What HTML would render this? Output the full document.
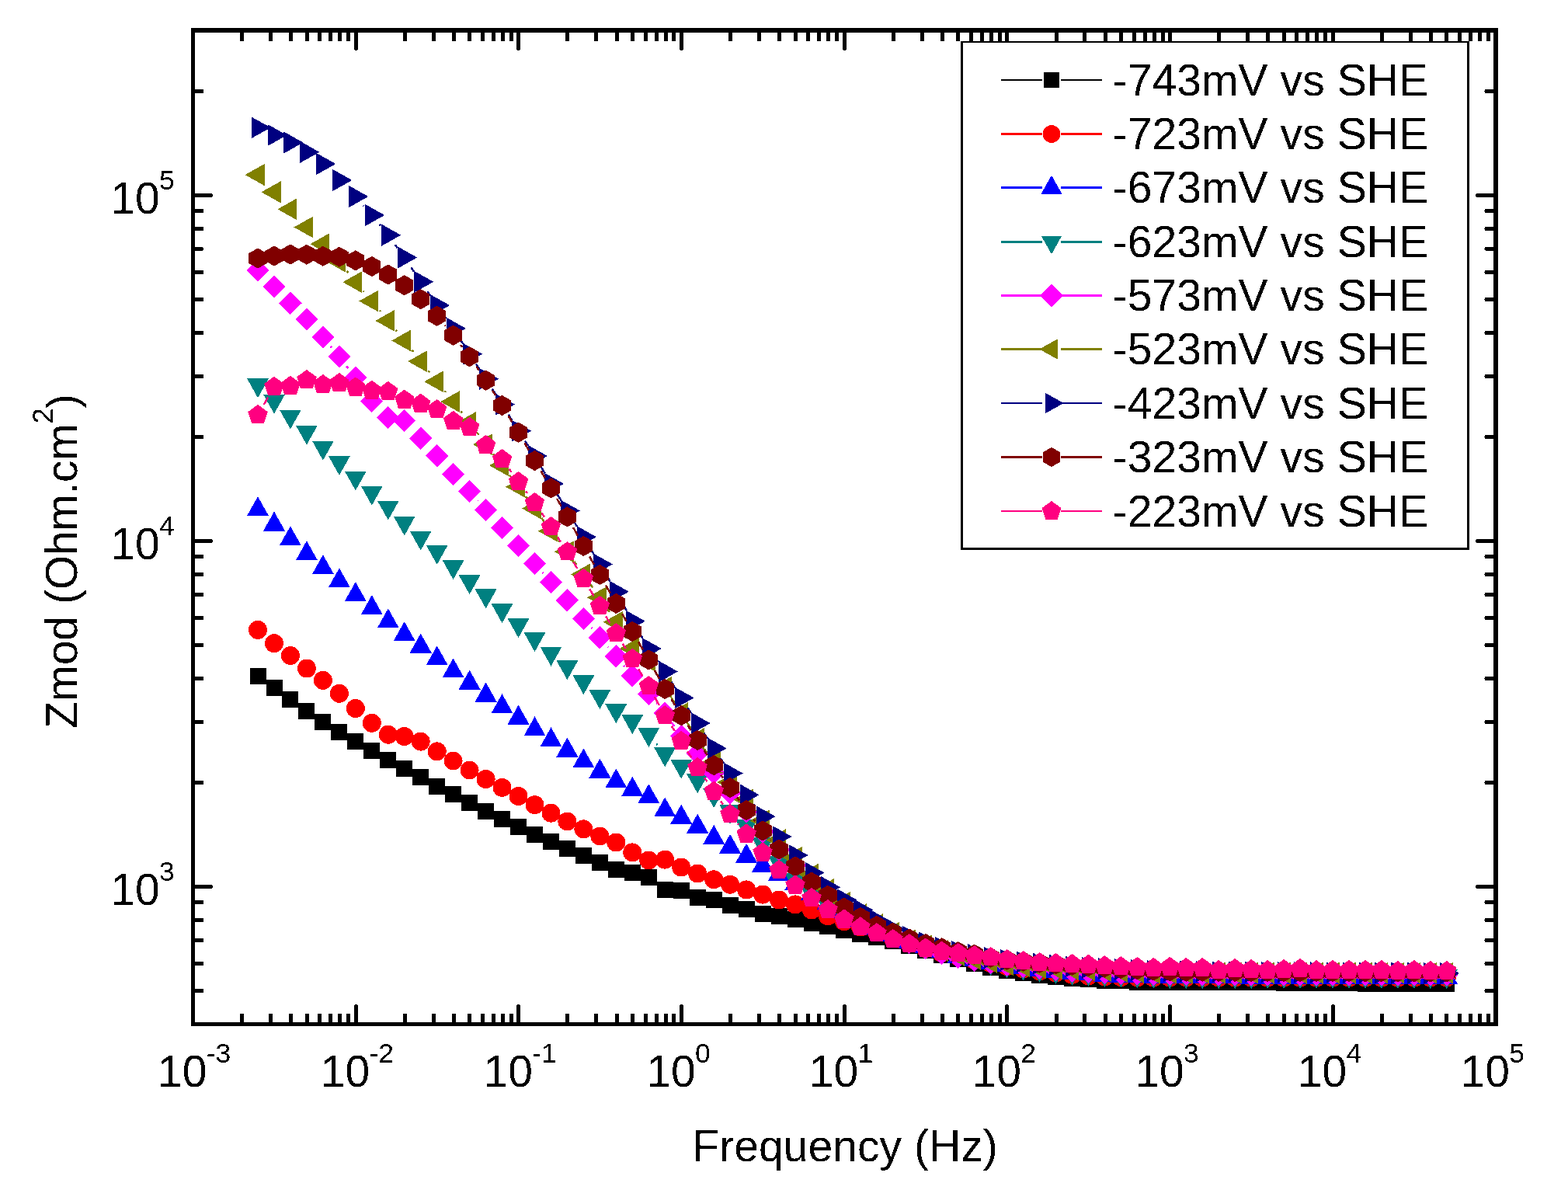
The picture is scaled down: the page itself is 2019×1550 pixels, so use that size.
<!DOCTYPE html>
<html lang="en"><head><meta charset="utf-8"><title>Zmod vs Frequency</title>
<style>html,body{margin:0;padding:0;background:#fff}body{width:2019px;height:1550px;overflow:hidden}svg{display:block}text{filter:url(#bin);font-family:"Liberation Sans",sans-serif;fill:#000}</style>
</head><body>
<svg width="2019" height="1550" viewBox="0 0 2019 1550" shape-rendering="crispEdges">
<defs><filter id="bin" x="-5%" y="-20%" width="110%" height="140%" color-interpolation-filters="sRGB"><feComponentTransfer><feFuncA type="discrete" tableValues="0 1"/></feComponentTransfer></filter></defs>
<rect width="2019" height="1550" fill="#fff"/>
<path id="ticks" fill="#000" d="M309 40v11a2.5 2.5 0 0 0 5 0V40zM309 1318v-11a2.5 2.5 0 0 1 5 0V1318zM346 40v11a2.5 2.5 0 0 0 5 0V40zM346 1318v-11a2.5 2.5 0 0 1 5 0V1318zM372 40v11a2.5 2.5 0 0 0 5 0V40zM372 1318v-11a2.5 2.5 0 0 1 5 0V1318zM393 40v11a2.5 2.5 0 0 0 5 0V40zM393 1318v-11a2.5 2.5 0 0 1 5 0V1318zM409 40v11a2.5 2.5 0 0 0 5 0V40zM409 1318v-11a2.5 2.5 0 0 1 5 0V1318zM423 40v11a2.5 2.5 0 0 0 5 0V40zM423 1318v-11a2.5 2.5 0 0 1 5 0V1318zM435 40v11a2.5 2.5 0 0 0 5 0V40zM435 1318v-11a2.5 2.5 0 0 1 5 0V1318zM446 40v11a2.5 2.5 0 0 0 5 0V40zM446 1318v-11a2.5 2.5 0 0 1 5 0V1318zM456 40v22.5a2.5 2.5 0 0 0 5 0V40zM456 1318v-22.5a2.5 2.5 0 0 1 5 0V1318zM519 40v11a2.5 2.5 0 0 0 5 0V40zM519 1318v-11a2.5 2.5 0 0 1 5 0V1318zM556 40v11a2.5 2.5 0 0 0 5 0V40zM556 1318v-11a2.5 2.5 0 0 1 5 0V1318zM582 40v11a2.5 2.5 0 0 0 5 0V40zM582 1318v-11a2.5 2.5 0 0 1 5 0V1318zM602 40v11a2.5 2.5 0 0 0 5 0V40zM602 1318v-11a2.5 2.5 0 0 1 5 0V1318zM619 40v11a2.5 2.5 0 0 0 5 0V40zM619 1318v-11a2.5 2.5 0 0 1 5 0V1318zM633 40v11a2.5 2.5 0 0 0 5 0V40zM633 1318v-11a2.5 2.5 0 0 1 5 0V1318zM645 40v11a2.5 2.5 0 0 0 5 0V40zM645 1318v-11a2.5 2.5 0 0 1 5 0V1318zM656 40v11a2.5 2.5 0 0 0 5 0V40zM656 1318v-11a2.5 2.5 0 0 1 5 0V1318zM665 40v22.5a2.5 2.5 0 0 0 5 0V40zM665 1318v-22.5a2.5 2.5 0 0 1 5 0V1318zM728 40v11a2.5 2.5 0 0 0 5 0V40zM728 1318v-11a2.5 2.5 0 0 1 5 0V1318zM765 40v11a2.5 2.5 0 0 0 5 0V40zM765 1318v-11a2.5 2.5 0 0 1 5 0V1318zM792 40v11a2.5 2.5 0 0 0 5 0V40zM792 1318v-11a2.5 2.5 0 0 1 5 0V1318zM812 40v11a2.5 2.5 0 0 0 5 0V40zM812 1318v-11a2.5 2.5 0 0 1 5 0V1318zM829 40v11a2.5 2.5 0 0 0 5 0V40zM829 1318v-11a2.5 2.5 0 0 1 5 0V1318zM843 40v11a2.5 2.5 0 0 0 5 0V40zM843 1318v-11a2.5 2.5 0 0 1 5 0V1318zM855 40v11a2.5 2.5 0 0 0 5 0V40zM855 1318v-11a2.5 2.5 0 0 1 5 0V1318zM865 40v11a2.5 2.5 0 0 0 5 0V40zM865 1318v-11a2.5 2.5 0 0 1 5 0V1318zM875 40v22.5a2.5 2.5 0 0 0 5 0V40zM875 1318v-22.5a2.5 2.5 0 0 1 5 0V1318zM938 40v11a2.5 2.5 0 0 0 5 0V40zM938 1318v-11a2.5 2.5 0 0 1 5 0V1318zM975 40v11a2.5 2.5 0 0 0 5 0V40zM975 1318v-11a2.5 2.5 0 0 1 5 0V1318zM1001 40v11a2.5 2.5 0 0 0 5 0V40zM1001 1318v-11a2.5 2.5 0 0 1 5 0V1318zM1022 40v11a2.5 2.5 0 0 0 5 0V40zM1022 1318v-11a2.5 2.5 0 0 1 5 0V1318zM1038 40v11a2.5 2.5 0 0 0 5 0V40zM1038 1318v-11a2.5 2.5 0 0 1 5 0V1318zM1052 40v11a2.5 2.5 0 0 0 5 0V40zM1052 1318v-11a2.5 2.5 0 0 1 5 0V1318zM1064 40v11a2.5 2.5 0 0 0 5 0V40zM1064 1318v-11a2.5 2.5 0 0 1 5 0V1318zM1075 40v11a2.5 2.5 0 0 0 5 0V40zM1075 1318v-11a2.5 2.5 0 0 1 5 0V1318zM1085 40v22.5a2.5 2.5 0 0 0 5 0V40zM1085 1318v-22.5a2.5 2.5 0 0 1 5 0V1318zM1148 40v11a2.5 2.5 0 0 0 5 0V40zM1148 1318v-11a2.5 2.5 0 0 1 5 0V1318zM1185 40v11a2.5 2.5 0 0 0 5 0V40zM1185 1318v-11a2.5 2.5 0 0 1 5 0V1318zM1211 40v11a2.5 2.5 0 0 0 5 0V40zM1211 1318v-11a2.5 2.5 0 0 1 5 0V1318zM1231 40v11a2.5 2.5 0 0 0 5 0V40zM1231 1318v-11a2.5 2.5 0 0 1 5 0V1318zM1248 40v11a2.5 2.5 0 0 0 5 0V40zM1248 1318v-11a2.5 2.5 0 0 1 5 0V1318zM1262 40v11a2.5 2.5 0 0 0 5 0V40zM1262 1318v-11a2.5 2.5 0 0 1 5 0V1318zM1274 40v11a2.5 2.5 0 0 0 5 0V40zM1274 1318v-11a2.5 2.5 0 0 1 5 0V1318zM1285 40v11a2.5 2.5 0 0 0 5 0V40zM1285 1318v-11a2.5 2.5 0 0 1 5 0V1318zM1294 40v22.5a2.5 2.5 0 0 0 5 0V40zM1294 1318v-22.5a2.5 2.5 0 0 1 5 0V1318zM1358 40v11a2.5 2.5 0 0 0 5 0V40zM1358 1318v-11a2.5 2.5 0 0 1 5 0V1318zM1394 40v11a2.5 2.5 0 0 0 5 0V40zM1394 1318v-11a2.5 2.5 0 0 1 5 0V1318zM1421 40v11a2.5 2.5 0 0 0 5 0V40zM1421 1318v-11a2.5 2.5 0 0 1 5 0V1318zM1441 40v11a2.5 2.5 0 0 0 5 0V40zM1441 1318v-11a2.5 2.5 0 0 1 5 0V1318zM1458 40v11a2.5 2.5 0 0 0 5 0V40zM1458 1318v-11a2.5 2.5 0 0 1 5 0V1318zM1472 40v11a2.5 2.5 0 0 0 5 0V40zM1472 1318v-11a2.5 2.5 0 0 1 5 0V1318zM1484 40v11a2.5 2.5 0 0 0 5 0V40zM1484 1318v-11a2.5 2.5 0 0 1 5 0V1318zM1495 40v11a2.5 2.5 0 0 0 5 0V40zM1495 1318v-11a2.5 2.5 0 0 1 5 0V1318zM1504 40v22.5a2.5 2.5 0 0 0 5 0V40zM1504 1318v-22.5a2.5 2.5 0 0 1 5 0V1318zM1567 40v11a2.5 2.5 0 0 0 5 0V40zM1567 1318v-11a2.5 2.5 0 0 1 5 0V1318zM1604 40v11a2.5 2.5 0 0 0 5 0V40zM1604 1318v-11a2.5 2.5 0 0 1 5 0V1318zM1630 40v11a2.5 2.5 0 0 0 5 0V40zM1630 1318v-11a2.5 2.5 0 0 1 5 0V1318zM1651 40v11a2.5 2.5 0 0 0 5 0V40zM1651 1318v-11a2.5 2.5 0 0 1 5 0V1318zM1667 40v11a2.5 2.5 0 0 0 5 0V40zM1667 1318v-11a2.5 2.5 0 0 1 5 0V1318zM1681 40v11a2.5 2.5 0 0 0 5 0V40zM1681 1318v-11a2.5 2.5 0 0 1 5 0V1318zM1693 40v11a2.5 2.5 0 0 0 5 0V40zM1693 1318v-11a2.5 2.5 0 0 1 5 0V1318zM1704 40v11a2.5 2.5 0 0 0 5 0V40zM1704 1318v-11a2.5 2.5 0 0 1 5 0V1318zM1714 40v22.5a2.5 2.5 0 0 0 5 0V40zM1714 1318v-22.5a2.5 2.5 0 0 1 5 0V1318zM1777 40v11a2.5 2.5 0 0 0 5 0V40zM1777 1318v-11a2.5 2.5 0 0 1 5 0V1318zM1814 40v11a2.5 2.5 0 0 0 5 0V40zM1814 1318v-11a2.5 2.5 0 0 1 5 0V1318zM1840 40v11a2.5 2.5 0 0 0 5 0V40zM1840 1318v-11a2.5 2.5 0 0 1 5 0V1318zM1860 40v11a2.5 2.5 0 0 0 5 0V40zM1860 1318v-11a2.5 2.5 0 0 1 5 0V1318zM1877 40v11a2.5 2.5 0 0 0 5 0V40zM1877 1318v-11a2.5 2.5 0 0 1 5 0V1318zM1891 40v11a2.5 2.5 0 0 0 5 0V40zM1891 1318v-11a2.5 2.5 0 0 1 5 0V1318zM1903 40v11a2.5 2.5 0 0 0 5 0V40zM1903 1318v-11a2.5 2.5 0 0 1 5 0V1318zM1914 40v11a2.5 2.5 0 0 0 5 0V40zM1914 1318v-11a2.5 2.5 0 0 1 5 0V1318zM249 1273h11a2.5 2.5 0 0 1 0 5H249zM1925 1273h-11a2.5 2.5 0 0 0 0 5H1925zM249 1238h11a2.5 2.5 0 0 1 0 5H249zM1925 1238h-11a2.5 2.5 0 0 0 0 5H1925zM249 1208h11a2.5 2.5 0 0 1 0 5H249zM1925 1208h-11a2.5 2.5 0 0 0 0 5H1925zM249 1182h11a2.5 2.5 0 0 1 0 5H249zM1925 1182h-11a2.5 2.5 0 0 0 0 5H1925zM249 1159h11a2.5 2.5 0 0 1 0 5H249zM1925 1159h-11a2.5 2.5 0 0 0 0 5H1925zM249 1139h22.5a2.5 2.5 0 0 1 0 5H249zM1925 1139h-22.5a2.5 2.5 0 0 0 0 5H1925zM249 1005h11a2.5 2.5 0 0 1 0 5H249zM1925 1005h-11a2.5 2.5 0 0 0 0 5H1925zM249 927h11a2.5 2.5 0 0 1 0 5H249zM1925 927h-11a2.5 2.5 0 0 0 0 5H1925zM249 871h11a2.5 2.5 0 0 1 0 5H249zM1925 871h-11a2.5 2.5 0 0 0 0 5H1925zM249 828h11a2.5 2.5 0 0 1 0 5H249zM1925 828h-11a2.5 2.5 0 0 0 0 5H1925zM249 793h11a2.5 2.5 0 0 1 0 5H249zM1925 793h-11a2.5 2.5 0 0 0 0 5H1925zM249 763h11a2.5 2.5 0 0 1 0 5H249zM1925 763h-11a2.5 2.5 0 0 0 0 5H1925zM249 737h11a2.5 2.5 0 0 1 0 5H249zM1925 737h-11a2.5 2.5 0 0 0 0 5H1925zM249 714h11a2.5 2.5 0 0 1 0 5H249zM1925 714h-11a2.5 2.5 0 0 0 0 5H1925zM249 694h22.5a2.5 2.5 0 0 1 0 5H249zM1925 694h-22.5a2.5 2.5 0 0 0 0 5H1925zM249 560h11a2.5 2.5 0 0 1 0 5H249zM1925 560h-11a2.5 2.5 0 0 0 0 5H1925zM249 482h11a2.5 2.5 0 0 1 0 5H249zM1925 482h-11a2.5 2.5 0 0 0 0 5H1925zM249 426h11a2.5 2.5 0 0 1 0 5H249zM1925 426h-11a2.5 2.5 0 0 0 0 5H1925zM249 383h11a2.5 2.5 0 0 1 0 5H249zM1925 383h-11a2.5 2.5 0 0 0 0 5H1925zM249 348h11a2.5 2.5 0 0 1 0 5H249zM1925 348h-11a2.5 2.5 0 0 0 0 5H1925zM249 318h11a2.5 2.5 0 0 1 0 5H249zM1925 318h-11a2.5 2.5 0 0 0 0 5H1925zM249 292h11a2.5 2.5 0 0 1 0 5H249zM1925 292h-11a2.5 2.5 0 0 0 0 5H1925zM249 269h11a2.5 2.5 0 0 1 0 5H249zM1925 269h-11a2.5 2.5 0 0 0 0 5H1925zM249 249h22.5a2.5 2.5 0 0 1 0 5H249zM1925 249h-22.5a2.5 2.5 0 0 0 0 5H1925zM249 115h11a2.5 2.5 0 0 1 0 5H249zM1925 115h-11a2.5 2.5 0 0 0 0 5H1925z"/>
<path id="frame" fill="#000" fill-rule="evenodd" d="M246 36H1929V1321H246zM251 42V1316H1923V42z"/>
<g id="s1" fill="#000000"><path d="M321.5 860L342.5 860L342.5 881L321.5 881zM342.5 875L363.5 875L363.5 896L342.5 896zM363.4 890.1L384.4 890.1L384.4 911.1L363.4 911.1zM384.4 905.2L405.4 905.2L405.4 926.2L384.4 926.2zM405.4 919L426.4 919L426.4 940L405.4 940zM426.4 932.1L447.4 932.1L447.4 953.1L426.4 953.1zM447.3 944.2L468.3 944.2L468.3 965.2L447.3 965.2zM468.3 956.1L489.3 956.1L489.3 977.1L468.3 977.1zM489.3 968L510.3 968L510.3 989L489.3 989zM510.2 979.2L531.2 979.2L531.2 1000.2L510.2 1000.2zM531.2 990L552.2 990L552.2 1011L531.2 1011zM552.2 1001.9L573.2 1001.9L573.2 1022.9L552.2 1022.9zM573.1 1012.2L594.1 1012.2L594.1 1033.2L573.1 1033.2zM594.1 1023.1L615.1 1023.1L615.1 1044.1L594.1 1044.1zM615.1 1034.2L636.1 1034.2L636.1 1055.2L615.1 1055.2zM636 1044.1L657 1044.1L657 1065.1L636 1065.1zM657 1054L678 1054L678 1075L657 1075zM678 1063.9L699 1063.9L699 1084.9L678 1084.9zM699 1073.2L720 1073.2L720 1094.2L699 1094.2zM719.9 1082.1L740.9 1082.1L740.9 1103.1L719.9 1103.1zM740.9 1091.1L761.9 1091.1L761.9 1112.1L740.9 1112.1zM761.9 1100.2L782.9 1100.2L782.9 1121.2L761.9 1121.2zM782.8 1109.1L803.8 1109.1L803.8 1130.1L782.8 1130.1zM803.8 1113L824.8 1113L824.8 1134L803.8 1134zM824.8 1119.4L845.8 1119.4L845.8 1140.4L824.8 1140.4zM845.8 1135.2L866.8 1135.2L866.8 1156.2L845.8 1156.2zM866.7 1136.2L887.7 1136.2L887.7 1157.2L866.7 1157.2zM887.7 1145.1L908.7 1145.1L908.7 1166.1L887.7 1166.1zM908.7 1148.3L929.7 1148.3L929.7 1169.3L908.7 1169.3zM929.6 1155L950.6 1155L950.6 1176L929.6 1176zM950.6 1160.4L971.6 1160.4L971.6 1181.4L950.6 1181.4zM971.6 1166.3L992.6 1166.3L992.6 1187.3L971.6 1187.3zM992.5 1169.3L1013.5 1169.3L1013.5 1190.3L992.5 1190.3zM1013.5 1172.9L1034.5 1172.9L1034.5 1193.9L1013.5 1193.9zM1034.5 1177.8L1055.5 1177.8L1055.5 1198.8L1034.5 1198.8zM1055.4 1182.2L1076.4 1182.2L1076.4 1203.2L1055.4 1203.2zM1076.4 1186.7L1097.4 1186.7L1097.4 1207.7L1076.4 1207.7zM1097.4 1192.1L1118.4 1192.1L1118.4 1213.1L1097.4 1213.1zM1118.4 1196L1139.4 1196L1139.4 1217L1118.4 1217zM1139.3 1200.6L1160.3 1200.6L1160.3 1221.6L1139.3 1221.6zM1160.3 1206.9L1181.3 1206.9L1181.3 1227.9L1160.3 1227.9zM1181.3 1212.9L1202.3 1212.9L1202.3 1233.9L1181.3 1233.9zM1202.2 1219.2L1223.2 1219.2L1223.2 1240.2L1202.2 1240.2zM1223.2 1224.2L1244.2 1224.2L1244.2 1245.2L1223.2 1245.2zM1244.2 1230.1L1265.2 1230.1L1265.2 1251.1L1244.2 1251.1zM1265.2 1234.8L1286.2 1234.8L1286.2 1255.8L1265.2 1255.8zM1286.1 1238.9L1307.1 1238.9L1307.1 1259.9L1286.1 1259.9zM1307.1 1242.2L1328.1 1242.2L1328.1 1263.2L1307.1 1263.2zM1328.1 1245.2L1349.1 1245.2L1349.1 1266.2L1328.1 1266.2zM1349 1247.4L1370 1247.4L1370 1268.4L1349 1268.4zM1370 1249.4L1391 1249.4L1391 1270.4L1370 1270.4zM1391 1250.3L1412 1250.3L1412 1271.3L1391 1271.3zM1411.9 1251.6L1432.9 1251.6L1432.9 1272.6L1411.9 1272.6zM1432.9 1251.9L1453.9 1251.9L1453.9 1272.9L1432.9 1272.9zM1453.9 1253.5L1474.9 1253.5L1474.9 1274.5L1453.9 1274.5zM1474.8 1253.6L1495.8 1253.6L1495.8 1274.6L1474.8 1274.6zM1495.8 1253.7L1516.8 1253.7L1516.8 1274.7L1495.8 1274.7zM1516.8 1253.8L1537.8 1253.8L1537.8 1274.8L1516.8 1274.8zM1537.8 1253.8L1558.8 1253.8L1558.8 1274.8L1537.8 1274.8zM1558.7 1253.9L1579.7 1253.9L1579.7 1274.9L1558.7 1274.9zM1579.7 1254L1600.7 1254L1600.7 1275L1579.7 1275zM1600.7 1254.2L1621.7 1254.2L1621.7 1275.2L1600.7 1275.2zM1621.6 1254.3L1642.6 1254.3L1642.6 1275.3L1621.6 1275.3zM1642.6 1254.5L1663.6 1254.5L1663.6 1275.5L1642.6 1275.5zM1663.6 1254.7L1684.6 1254.7L1684.6 1275.7L1663.6 1275.7zM1684.5 1254.9L1705.5 1254.9L1705.5 1275.9L1684.5 1275.9zM1705.5 1255.1L1726.5 1255.1L1726.5 1276.1L1705.5 1276.1zM1726.5 1255.3L1747.5 1255.3L1747.5 1276.3L1726.5 1276.3zM1747.5 1255.5L1768.5 1255.5L1768.5 1276.5L1747.5 1276.5zM1768.4 1255.5L1789.4 1255.5L1789.4 1276.5L1768.4 1276.5zM1789.4 1255.6L1810.4 1255.6L1810.4 1276.6L1789.4 1276.6zM1810.4 1255.6L1831.4 1255.6L1831.4 1276.6L1810.4 1276.6zM1831.3 1255.7L1852.3 1255.7L1852.3 1276.7L1831.3 1276.7zM1852.3 1255.7L1873.3 1255.7L1873.3 1276.7L1852.3 1276.7z"/></g>
<g id="s2" fill="#ff0000"><path d="M320 810.9a12 12 0 1 0 24 0a12 12 0 1 0 -24 0zM341 828.2a12 12 0 1 0 24 0a12 12 0 1 0 -24 0zM361.9 844a12 12 0 1 0 24 0a12 12 0 1 0 -24 0zM382.9 860.5a12 12 0 1 0 24 0a12 12 0 1 0 -24 0zM403.9 875.9a12 12 0 1 0 24 0a12 12 0 1 0 -24 0zM424.9 892.8a12 12 0 1 0 24 0a12 12 0 1 0 -24 0zM445.8 912a12 12 0 1 0 24 0a12 12 0 1 0 -24 0zM466.8 930.8a12 12 0 1 0 24 0a12 12 0 1 0 -24 0zM487.8 945.7a12 12 0 1 0 24 0a12 12 0 1 0 -24 0zM508.7 948a12 12 0 1 0 24 0a12 12 0 1 0 -24 0zM529.7 954.6a12 12 0 1 0 24 0a12 12 0 1 0 -24 0zM550.7 967.4a12 12 0 1 0 24 0a12 12 0 1 0 -24 0zM571.6 979.5a12 12 0 1 0 24 0a12 12 0 1 0 -24 0zM592.6 991.5a12 12 0 1 0 24 0a12 12 0 1 0 -24 0zM613.6 1003a12 12 0 1 0 24 0a12 12 0 1 0 -24 0zM634.5 1013.9a12 12 0 1 0 24 0a12 12 0 1 0 -24 0zM655.5 1025.1a12 12 0 1 0 24 0a12 12 0 1 0 -24 0zM676.5 1036.2a12 12 0 1 0 24 0a12 12 0 1 0 -24 0zM697.5 1046.7a12 12 0 1 0 24 0a12 12 0 1 0 -24 0zM718.4 1057.5a12 12 0 1 0 24 0a12 12 0 1 0 -24 0zM739.4 1067.4a12 12 0 1 0 24 0a12 12 0 1 0 -24 0zM760.4 1076.5a12 12 0 1 0 24 0a12 12 0 1 0 -24 0zM781.3 1084.5a12 12 0 1 0 24 0a12 12 0 1 0 -24 0zM802.3 1097.4a12 12 0 1 0 24 0a12 12 0 1 0 -24 0zM823.3 1107.5a12 12 0 1 0 24 0a12 12 0 1 0 -24 0zM844.2 1106.6a12 12 0 1 0 24 0a12 12 0 1 0 -24 0zM865.2 1116.5a12 12 0 1 0 24 0a12 12 0 1 0 -24 0zM886.2 1124.5a12 12 0 1 0 24 0a12 12 0 1 0 -24 0zM907.2 1132.3a12 12 0 1 0 24 0a12 12 0 1 0 -24 0zM928.1 1138.7a12 12 0 1 0 24 0a12 12 0 1 0 -24 0zM949.1 1145.4a12 12 0 1 0 24 0a12 12 0 1 0 -24 0zM970.1 1151.6a12 12 0 1 0 24 0a12 12 0 1 0 -24 0zM991 1158.5a12 12 0 1 0 24 0a12 12 0 1 0 -24 0zM1012 1164.4a12 12 0 1 0 24 0a12 12 0 1 0 -24 0zM1033 1171.4a12 12 0 1 0 24 0a12 12 0 1 0 -24 0zM1053.9 1179.3a12 12 0 1 0 24 0a12 12 0 1 0 -24 0zM1074.9 1186.2a12 12 0 1 0 24 0a12 12 0 1 0 -24 0zM1095.9 1193.5a12 12 0 1 0 24 0a12 12 0 1 0 -24 0zM1116.9 1200.5a12 12 0 1 0 24 0a12 12 0 1 0 -24 0zM1137.8 1207.5a12 12 0 1 0 24 0a12 12 0 1 0 -24 0zM1158.8 1214.5a12 12 0 1 0 24 0a12 12 0 1 0 -24 0zM1179.8 1221a12 12 0 1 0 24 0a12 12 0 1 0 -24 0zM1200.7 1227a12 12 0 1 0 24 0a12 12 0 1 0 -24 0zM1221.7 1231.5a12 12 0 1 0 24 0a12 12 0 1 0 -24 0zM1242.7 1236a12 12 0 1 0 24 0a12 12 0 1 0 -24 0zM1263.7 1240a12 12 0 1 0 24 0a12 12 0 1 0 -24 0zM1284.6 1244a12 12 0 1 0 24 0a12 12 0 1 0 -24 0zM1305.6 1247.5a12 12 0 1 0 24 0a12 12 0 1 0 -24 0zM1326.6 1250.3a12 12 0 1 0 24 0a12 12 0 1 0 -24 0zM1347.5 1252.5a12 12 0 1 0 24 0a12 12 0 1 0 -24 0zM1368.5 1254.8a12 12 0 1 0 24 0a12 12 0 1 0 -24 0zM1389.5 1256.3a12 12 0 1 0 24 0a12 12 0 1 0 -24 0zM1410.4 1257.4a12 12 0 1 0 24 0a12 12 0 1 0 -24 0zM1431.4 1258a12 12 0 1 0 24 0a12 12 0 1 0 -24 0zM1452.4 1258.4a12 12 0 1 0 24 0a12 12 0 1 0 -24 0zM1473.3 1258.5a12 12 0 1 0 24 0a12 12 0 1 0 -24 0zM1494.3 1258.5a12 12 0 1 0 24 0a12 12 0 1 0 -24 0zM1515.3 1258.5a12 12 0 1 0 24 0a12 12 0 1 0 -24 0zM1536.3 1258.5a12 12 0 1 0 24 0a12 12 0 1 0 -24 0zM1557.2 1258.5a12 12 0 1 0 24 0a12 12 0 1 0 -24 0zM1578.2 1258.5a12 12 0 1 0 24 0a12 12 0 1 0 -24 0zM1599.2 1258.5a12 12 0 1 0 24 0a12 12 0 1 0 -24 0zM1620.1 1258.5a12 12 0 1 0 24 0a12 12 0 1 0 -24 0zM1641.1 1258.5a12 12 0 1 0 24 0a12 12 0 1 0 -24 0zM1662.1 1258.5a12 12 0 1 0 24 0a12 12 0 1 0 -24 0zM1683 1258.5a12 12 0 1 0 24 0a12 12 0 1 0 -24 0zM1704 1258.5a12 12 0 1 0 24 0a12 12 0 1 0 -24 0zM1725 1258.5a12 12 0 1 0 24 0a12 12 0 1 0 -24 0zM1746 1258.5a12 12 0 1 0 24 0a12 12 0 1 0 -24 0zM1766.9 1258.5a12 12 0 1 0 24 0a12 12 0 1 0 -24 0zM1787.9 1258.5a12 12 0 1 0 24 0a12 12 0 1 0 -24 0zM1808.9 1258.5a12 12 0 1 0 24 0a12 12 0 1 0 -24 0zM1829.8 1258.5a12 12 0 1 0 24 0a12 12 0 1 0 -24 0zM1850.8 1258.5a12 12 0 1 0 24 0a12 12 0 1 0 -24 0z"/></g>
<g id="s3" fill="#0000ff"><path d="M332 639.1L346 664.1L318 664.1zM353 658.5L367 683.5L339 683.5zM373.9 677.3L387.9 702.3L359.9 702.3zM394.9 696.2L408.9 721.2L380.9 721.2zM415.9 714.2L429.9 739.2L401.9 739.2zM436.9 731.3L450.9 756.3L422.9 756.3zM457.8 749.1L471.8 774.1L443.8 774.1zM478.8 766.2L492.8 791.2L464.8 791.2zM499.8 783.4L513.8 808.4L485.8 808.4zM520.7 800.2L534.7 825.2L506.7 825.2zM541.7 815.5L555.7 840.5L527.7 840.5zM562.7 831.3L576.7 856.3L548.7 856.3zM583.6 847.4L597.6 872.4L569.6 872.4zM604.6 862.6L618.6 887.6L590.6 887.6zM625.6 878.5L639.6 903.5L611.6 903.5zM646.5 893.3L660.5 918.3L632.5 918.3zM667.5 907.6L681.5 932.6L653.5 932.6zM688.5 922.4L702.5 947.4L674.5 947.4zM709.5 936.3L723.5 961.3L695.5 961.3zM730.4 949.5L744.4 974.5L716.4 974.5zM751.4 963.4L765.4 988.4L737.4 988.4zM772.4 976.5L786.4 1001.5L758.4 1001.5zM793.3 989.4L807.3 1014.4L779.3 1014.4zM814.3 999.7L828.3 1024.7L800.3 1024.7zM835.3 1009.2L849.3 1034.2L821.3 1034.2zM856.2 1026.4L870.2 1051.4L842.2 1051.4zM877.2 1035.7L891.2 1060.7L863.2 1060.7zM898.2 1047.6L912.2 1072.6L884.2 1072.6zM919.2 1061.9L933.2 1086.9L905.2 1086.9zM940.1 1073.8L954.1 1098.8L926.1 1098.8zM961.1 1085.8L975.1 1110.8L947.1 1110.8zM982.1 1097.7L996.1 1122.7L968.1 1122.7zM1003 1108.8L1017 1133.8L989 1133.8zM1024 1121.4L1038 1146.4L1010 1146.4zM1045 1134.1L1059 1159.1L1031 1159.1zM1065.9 1146L1079.9 1171L1051.9 1171zM1086.9 1157.4L1100.9 1182.4L1072.9 1182.4zM1107.9 1168.4L1121.9 1193.4L1093.9 1193.4zM1128.9 1178.4L1142.9 1203.4L1114.9 1203.4zM1149.8 1186.5L1163.8 1211.5L1135.8 1211.5zM1170.8 1195.9L1184.8 1220.9L1156.8 1220.9zM1191.8 1201.9L1205.8 1226.9L1177.8 1226.9zM1212.7 1208.4L1226.7 1233.4L1198.7 1233.4zM1233.7 1214.9L1247.7 1239.9L1219.7 1239.9zM1254.7 1218.9L1268.7 1243.9L1240.7 1243.9zM1275.7 1222.9L1289.7 1247.9L1261.7 1247.9zM1296.6 1226.2L1310.6 1251.2L1282.6 1251.2zM1317.6 1229.2L1331.6 1254.2L1303.6 1254.2zM1338.6 1231.9L1352.6 1256.9L1324.6 1256.9zM1359.5 1234.2L1373.5 1259.2L1345.5 1259.2zM1380.5 1235.9L1394.5 1260.9L1366.5 1260.9zM1401.5 1237.4L1415.5 1262.4L1387.5 1262.4zM1422.4 1238.6L1436.4 1263.6L1408.4 1263.6zM1443.4 1239.6L1457.4 1264.6L1429.4 1264.6zM1464.4 1240.4L1478.4 1265.4L1450.4 1265.4zM1485.3 1240.9L1499.3 1265.9L1471.3 1265.9zM1506.3 1241.4L1520.3 1266.4L1492.3 1266.4zM1527.3 1241.4L1541.3 1266.4L1513.3 1266.4zM1548.3 1241.4L1562.3 1266.4L1534.3 1266.4zM1569.2 1241.4L1583.2 1266.4L1555.2 1266.4zM1590.2 1241.4L1604.2 1266.4L1576.2 1266.4zM1611.2 1241.5L1625.2 1266.5L1597.2 1266.5zM1632.1 1241.5L1646.1 1266.5L1618.1 1266.5zM1653.1 1241.5L1667.1 1266.5L1639.1 1266.5zM1674.1 1241.5L1688.1 1266.5L1660.1 1266.5zM1695 1241.5L1709 1266.5L1681 1266.5zM1716 1241.5L1730 1266.5L1702 1266.5zM1737 1241.5L1751 1266.5L1723 1266.5zM1758 1241.5L1772 1266.5L1744 1266.5zM1778.9 1241.6L1792.9 1266.6L1764.9 1266.6zM1799.9 1241.6L1813.9 1266.6L1785.9 1266.6zM1820.9 1241.6L1834.9 1266.6L1806.9 1266.6zM1841.8 1241.6L1855.8 1266.6L1827.8 1266.6zM1862.8 1241.6L1876.8 1266.6L1848.8 1266.6z"/></g>
<g id="s4" fill="#008080"><path fill="none" stroke="#008080" stroke-width="2.5" d="M845.1 957.3L846.4 958.7M992.3 1098.2L992.8 1098.7"/><path d="M332 512.2L346 487.2L318 487.2zM353 532.7L367 507.7L339 507.7zM373.9 552.5L387.9 527.5L359.9 527.5zM394.9 572.7L408.9 547.7L380.9 547.7zM415.9 592.6L429.9 567.6L401.9 567.6zM436.9 611.9L450.9 586.9L422.9 586.9zM457.8 631.5L471.8 606.5L443.8 606.5zM478.8 650.6L492.8 625.6L464.8 625.6zM499.8 669.5L513.8 644.5L485.8 644.5zM520.7 689.6L534.7 664.6L506.7 664.6zM541.7 708.6L555.7 683.6L527.7 683.6zM562.7 726.8L576.7 701.8L548.7 701.8zM583.6 746L597.6 721L569.6 721zM604.6 765.1L618.6 740.1L590.6 740.1zM625.6 783.3L639.6 758.3L611.6 758.3zM646.5 802.1L660.5 777.1L632.5 777.1zM667.5 821.1L681.5 796.1L653.5 796.1zM688.5 839.1L702.5 814.1L674.5 814.1zM709.5 857.6L723.5 832.6L695.5 832.6zM730.4 875.2L744.4 850.2L716.4 850.2zM751.4 894.2L765.4 869.2L737.4 869.2zM772.4 913L786.4 888L758.4 888zM793.3 931.2L807.3 906.2L779.3 906.2zM814.3 945.1L828.3 920.1L800.3 920.1zM835.3 961.9L849.3 936.9L821.3 936.9zM856.2 987.3L870.2 962.3L842.2 962.3zM877.2 1002.6L891.2 977.6L863.2 977.6zM898.2 1021.4L912.2 996.4L884.2 996.4zM919.2 1040L933.2 1015L905.2 1015zM940.1 1060.7L954.1 1035.7L926.1 1035.7zM961.1 1080.3L975.1 1055.3L947.1 1055.3zM982.1 1103.1L996.1 1078.1L968.1 1078.1zM1003 1127L1017 1102L989 1102zM1024 1148.6L1038 1123.6L1010 1123.6zM1045 1166.6L1059 1141.6L1031 1141.6zM1065.9 1181.6L1079.9 1156.6L1051.9 1156.6zM1086.9 1193.6L1100.9 1168.6L1072.9 1168.6zM1107.9 1203.6L1121.9 1178.6L1093.9 1178.6zM1128.9 1212.1L1142.9 1187.1L1114.9 1187.1zM1149.8 1219.6L1163.8 1194.6L1135.8 1194.6zM1170.8 1227.1L1184.8 1202.1L1156.8 1202.1zM1191.8 1234.6L1205.8 1209.6L1177.8 1209.6zM1212.7 1241.6L1226.7 1216.6L1198.7 1216.6zM1233.7 1247.1L1247.7 1222.1L1219.7 1222.1zM1254.7 1251.8L1268.7 1226.8L1240.7 1226.8zM1275.7 1256.1L1289.7 1231.1L1261.7 1231.1zM1296.6 1259.6L1310.6 1234.6L1282.6 1234.6zM1317.6 1262.6L1331.6 1237.6L1303.6 1237.6zM1338.6 1265.1L1352.6 1240.1L1324.6 1240.1zM1359.5 1267.1L1373.5 1242.1L1345.5 1242.1zM1380.5 1268.6L1394.5 1243.6L1366.5 1243.6zM1401.5 1269.8L1415.5 1244.8L1387.5 1244.8zM1422.4 1270.8L1436.4 1245.8L1408.4 1245.8zM1443.4 1271.6L1457.4 1246.6L1429.4 1246.6zM1464.4 1272.3L1478.4 1247.3L1450.4 1247.3zM1485.3 1272.8L1499.3 1247.8L1471.3 1247.8zM1506.3 1273.1L1520.3 1248.1L1492.3 1248.1zM1527.3 1273.1L1541.3 1248.1L1513.3 1248.1zM1548.3 1273.1L1562.3 1248.1L1534.3 1248.1zM1569.2 1273.1L1583.2 1248.1L1555.2 1248.1zM1590.2 1273.1L1604.2 1248.1L1576.2 1248.1zM1611.2 1273.1L1625.2 1248.1L1597.2 1248.1zM1632.1 1273.1L1646.1 1248.1L1618.1 1248.1zM1653.1 1273.1L1667.1 1248.1L1639.1 1248.1zM1674.1 1273.1L1688.1 1248.1L1660.1 1248.1zM1695 1273.1L1709 1248.1L1681 1248.1zM1716 1273.1L1730 1248.1L1702 1248.1zM1737 1273.1L1751 1248.1L1723 1248.1zM1758 1273.1L1772 1248.1L1744 1248.1zM1778.9 1273.1L1792.9 1248.1L1764.9 1248.1zM1799.9 1273.1L1813.9 1248.1L1785.9 1248.1zM1820.9 1273.1L1834.9 1248.1L1806.9 1248.1zM1841.8 1273.1L1855.8 1248.1L1827.8 1248.1zM1862.8 1273.1L1876.8 1248.1L1848.8 1248.1z"/></g>
<g id="s5" fill="#ff00ff"><path fill="none" stroke="#ff00ff" stroke-width="2.5" d="M425.8 445.9L426.9 447.3M446.3 471.5L448.4 474.1M466.7 499.1L469.9 503.8M614.9 644.3L615.3 644.9M698.6 737.1L699.3 737.9M761.5 808.2L762.3 809.1M782.6 832.6L783.1 833.1M803.3 856.7L804.4 858.1M845.4 905.3L846.1 906.1M865.2 930.6L868.3 934.9M908.1 981.7L909.2 983.1M928.9 1007.1L930.4 1008.9M950.4 1032.7L950.9 1033.2M970.9 1056.9L972.3 1058.7"/><path d="M332 333.7L346.6 348.3L332 362.9L317.4 348.3zM353 354.8L367.6 369.4L353 384L338.4 369.4zM373.9 375.9L388.5 390.5L373.9 405.1L359.3 390.5zM394.9 396.7L409.5 411.3L394.9 425.9L380.3 411.3zM415.9 419.4L430.5 434L415.9 448.6L401.3 434zM436.9 444.6L451.5 459.2L436.9 473.8L422.2 459.2zM457.8 471.8L472.4 486.4L457.8 501L443.2 486.4zM478.8 501.9L493.4 516.5L478.8 531.1L464.2 516.5zM499.8 523L514.4 537.6L499.8 552.2L485.2 537.6zM520.7 527L535.3 541.6L520.7 556.2L506.1 541.6zM541.7 549.7L556.3 564.3L541.7 578.9L527.1 564.3zM562.7 572.3L577.3 586.9L562.7 601.5L548.1 586.9zM583.6 595.8L598.2 610.4L583.6 625L569 610.4zM604.6 618.1L619.2 632.7L604.6 647.3L590 632.7zM625.6 641.9L640.2 656.5L625.6 671.1L611 656.5zM646.5 665.1L661.1 679.7L646.5 694.3L631.9 679.7zM667.5 687.8L682.1 702.4L667.5 717L652.9 702.4zM688.5 710.8L703.1 725.4L688.5 740L673.9 725.4zM709.5 735L724.1 749.6L709.5 764.2L694.9 749.6zM730.4 758.4L745 773L730.4 787.6L715.8 773zM751.4 781.8L766 796.4L751.4 811L736.8 796.4zM772.4 806.3L787 820.9L772.4 835.5L757.8 820.9zM793.3 830.2L807.9 844.8L793.3 859.4L778.7 844.8zM814.3 855.4L828.9 870L814.3 884.6L799.7 870zM835.3 878.9L849.9 893.5L835.3 908.1L820.7 893.5zM856.2 903.3L870.9 917.9L856.2 932.5L841.6 917.9zM877.2 933L891.8 947.6L877.2 962.2L862.6 947.6zM898.2 955.2L912.8 969.8L898.2 984.4L883.6 969.8zM919.2 980.4L933.8 995L919.2 1009.6L904.6 995zM940.1 1006.4L954.7 1021L940.1 1035.6L925.5 1021zM961.1 1030.3L975.7 1044.9L961.1 1059.5L946.5 1044.9zM982.1 1056.1L996.7 1070.7L982.1 1085.3L967.5 1070.7zM1003 1079.4L1017.6 1094L1003 1108.6L988.4 1094zM1024 1099.4L1038.6 1114L1024 1128.6L1009.4 1114zM1045 1119.9L1059.6 1134.5L1045 1149.1L1030.4 1134.5zM1065.9 1138L1080.5 1152.6L1065.9 1167.2L1051.3 1152.6zM1086.9 1152.9L1101.5 1167.5L1086.9 1182.1L1072.3 1167.5zM1107.9 1165.4L1122.5 1180L1107.9 1194.6L1093.3 1180zM1128.9 1177.4L1143.5 1192L1128.9 1206.6L1114.3 1192zM1149.8 1188.4L1164.4 1203L1149.8 1217.6L1135.2 1203zM1170.8 1198.7L1185.4 1213.3L1170.8 1227.9L1156.2 1213.3zM1191.8 1205.7L1206.4 1220.3L1191.8 1234.9L1177.2 1220.3zM1212.7 1212.6L1227.3 1227.2L1212.7 1241.8L1198.1 1227.2zM1233.7 1217.6L1248.3 1232.2L1233.7 1246.8L1219.1 1232.2zM1254.7 1221.6L1269.3 1236.2L1254.7 1250.8L1240.1 1236.2zM1275.7 1225.1L1290.2 1239.7L1275.7 1254.3L1261.1 1239.7zM1296.6 1227.5L1311.2 1242.1L1296.6 1256.7L1282 1242.1zM1317.6 1229.9L1332.2 1244.5L1317.6 1259.1L1303 1244.5zM1338.6 1232.1L1353.2 1246.7L1338.6 1261.3L1324 1246.7zM1359.5 1234L1374.1 1248.6L1359.5 1263.2L1344.9 1248.6zM1380.5 1235.6L1395.1 1250.2L1380.5 1264.8L1365.9 1250.2zM1401.5 1236.9L1416.1 1251.5L1401.5 1266.1L1386.9 1251.5zM1422.4 1237.9L1437 1252.5L1422.4 1267.1L1407.8 1252.5zM1443.4 1238.7L1458 1253.3L1443.4 1267.9L1428.8 1253.3zM1464.4 1239.4L1479 1254L1464.4 1268.6L1449.8 1254zM1485.3 1240.1L1499.9 1254.7L1485.3 1269.3L1470.8 1254.7zM1506.3 1240.1L1520.9 1254.7L1506.3 1269.3L1491.7 1254.7zM1527.3 1240.1L1541.9 1254.7L1527.3 1269.3L1512.7 1254.7zM1548.3 1240.2L1562.9 1254.8L1548.3 1269.3L1533.7 1254.8zM1569.2 1240.2L1583.8 1254.8L1569.2 1269.4L1554.6 1254.8zM1590.2 1240.2L1604.8 1254.8L1590.2 1269.4L1575.6 1254.8zM1611.2 1240.2L1625.8 1254.8L1611.2 1269.4L1596.6 1254.8zM1632.1 1240.2L1646.7 1254.8L1632.1 1269.4L1617.5 1254.8zM1653.1 1240.2L1667.7 1254.8L1653.1 1269.4L1638.5 1254.8zM1674.1 1240.2L1688.7 1254.8L1674.1 1269.4L1659.5 1254.8zM1695 1240.3L1709.6 1254.9L1695 1269.5L1680.5 1254.9zM1716 1240.3L1730.6 1254.9L1716 1269.5L1701.4 1254.9zM1737 1240.3L1751.6 1254.9L1737 1269.5L1722.4 1254.9zM1758 1240.3L1772.6 1254.9L1758 1269.5L1743.4 1254.9zM1778.9 1240.3L1793.5 1254.9L1778.9 1269.5L1764.3 1254.9zM1799.9 1240.4L1814.5 1255L1799.9 1269.5L1785.3 1255zM1820.9 1240.4L1835.5 1255L1820.9 1269.6L1806.3 1255zM1841.8 1240.4L1856.4 1255L1841.8 1269.6L1827.2 1255zM1862.8 1240.4L1877.4 1255L1862.8 1269.6L1848.2 1255z"/></g>
<g id="s6" fill="#808000"><path fill="none" stroke="#808000" stroke-width="2.5" d="M446.5 348.9L448.2 351.1M467.9 375L468.7 375.8M488.7 399.5L489.9 401M509.6 424.9L510.9 426.5M530.3 450.7L532.1 453M551.4 477.3L553 479.2M572.4 503.3L573.9 505.1M593.2 529.3L595.1 531.8M613.9 556.4L616.3 559.8M635.1 584.4L637 587M655.9 611.5L658.1 614.4M676.9 639.1L679.2 642.1M697.5 667.1L700.4 671.1M719.1 695.9L720.8 698.1M739.5 722.9L742.4 726.9M760.3 752.2L763.4 756.5M780.9 782.1L784.8 788M801.5 814.1L806.2 821.8M843.3 863.9L848.2 871.9M864.5 898.2L869 905.3M885.6 931.5L889.8 938.1M906.9 964L910.4 969.2M929.1 993.9L930.2 995.1M970.6 1041.8L972.6 1044.3M992.1 1068.4L993 1069.6"/><path d="M315.5 225.1L340.5 211.1L340.5 239.1zM336.5 247.3L361.5 233.3L361.5 261.3zM357.4 269.3L382.4 255.3L382.4 283.3zM378.4 292.5L403.4 278.5L403.4 306.5zM399.4 314.2L424.4 300.2L424.4 328.2zM420.4 336.8L445.4 322.8L445.4 350.8zM441.3 363.2L466.3 349.2L466.3 377.2zM462.3 387.6L487.3 373.6L487.3 401.6zM483.3 412.9L508.3 398.9L508.3 426.9zM504.2 438.5L529.2 424.5L529.2 452.5zM525.2 465.2L550.2 451.2L550.2 479.2zM546.2 491.3L571.2 477.3L571.2 505.3zM567.1 517.1L592.1 503.1L592.1 531.1zM588.1 544L613.1 530L613.1 558zM609.1 572.2L634.1 558.2L634.1 586.2zM630 599.2L655 585.2L655 613.2zM651 626.7L676 612.7L676 640.7zM672 654.5L697 640.5L697 668.5zM693 683.7L718 669.7L718 697.7zM713.9 710.3L738.9 696.3L738.9 724.3zM734.9 739.5L759.9 725.5L759.9 753.5zM755.9 769.2L780.9 755.2L780.9 783.2zM776.8 800.9L801.8 786.9L801.8 814.9zM797.8 835L822.8 821L822.8 849zM818.8 850.7L843.8 836.7L843.8 864.7zM839.8 885.1L864.8 871.1L864.8 899.1zM860.7 918.4L885.7 904.4L885.7 932.4zM881.7 951.2L906.7 937.2L906.7 965.2zM902.7 982L927.7 968L927.7 996zM923.6 1007L948.6 993L948.6 1021zM944.6 1029.5L969.6 1015.5L969.6 1043.5zM965.6 1056.6L990.6 1042.6L990.6 1070.6zM986.5 1081.4L1011.5 1067.4L1011.5 1095.4zM1007.5 1104.2L1032.5 1090.2L1032.5 1118.2zM1028.5 1125.9L1053.5 1111.9L1053.5 1139.9zM1049.4 1144.8L1074.4 1130.8L1074.4 1158.8zM1070.4 1161.6L1095.4 1147.6L1095.4 1175.6zM1091.4 1176.9L1116.4 1162.9L1116.4 1190.9zM1112.4 1189.9L1137.4 1175.9L1137.4 1203.9zM1133.3 1200.8L1158.3 1186.8L1158.3 1214.8zM1154.3 1210.1L1179.3 1196.1L1179.3 1224.1zM1175.3 1217.1L1200.3 1203.1L1200.3 1231.1zM1196.2 1224.1L1221.2 1210.1L1221.2 1238.1zM1217.2 1230L1242.2 1216L1242.2 1244zM1238.2 1235L1263.2 1221L1263.2 1249zM1259.2 1239L1284.2 1225L1284.2 1253zM1280.1 1242L1305.1 1228L1305.1 1256zM1301.1 1244L1326.1 1230L1326.1 1258zM1322.1 1246L1347.1 1232L1347.1 1260zM1343 1247.2L1368 1233.2L1368 1261.2zM1364 1248.2L1389 1234.2L1389 1262.2zM1385 1249L1410 1235L1410 1263zM1405.9 1250L1430.9 1236L1430.9 1264zM1426.9 1251L1451.9 1237L1451.9 1265zM1447.9 1251.8L1472.9 1237.8L1472.9 1265.8zM1468.8 1252.6L1493.8 1238.6L1493.8 1266.6zM1489.8 1252.6L1514.8 1238.6L1514.8 1266.6zM1510.8 1252.6L1535.8 1238.6L1535.8 1266.6zM1531.8 1252.6L1556.8 1238.6L1556.8 1266.6zM1552.7 1252.6L1577.7 1238.6L1577.7 1266.6zM1573.7 1252.6L1598.7 1238.6L1598.7 1266.6zM1594.7 1252.6L1619.7 1238.6L1619.7 1266.6zM1615.6 1252.6L1640.6 1238.6L1640.6 1266.6zM1636.6 1252.6L1661.6 1238.6L1661.6 1266.6zM1657.6 1252.6L1682.6 1238.6L1682.6 1266.6zM1678.5 1252.6L1703.5 1238.6L1703.5 1266.6zM1699.5 1252.6L1724.5 1238.6L1724.5 1266.6zM1720.5 1252.6L1745.5 1238.6L1745.5 1266.6zM1741.5 1252.6L1766.5 1238.6L1766.5 1266.6zM1762.4 1252.6L1787.4 1238.6L1787.4 1266.6zM1783.4 1252.6L1808.4 1238.6L1808.4 1266.6zM1804.4 1252.6L1829.4 1238.6L1829.4 1266.6zM1825.3 1252.6L1850.3 1238.6L1850.3 1266.6zM1846.3 1252.6L1871.3 1238.6L1871.3 1266.6z"/></g>
<g id="s7" fill="#000080"><path fill="none" stroke="#000080" stroke-width="2.5" d="M468 264.7L468.6 265.3M488.6 289L490 290.7M508.9 315.2L511.6 319M529.4 344.4L533.1 349.9M550.5 375.5L553.8 380.4M571.6 405.8L574.7 410.2M592 436L596.3 442.6M613.1 468.7L617.1 474.8M633.9 500.9L638.2 507.5M654.7 533.8L659.4 541.5M675.9 567.7L680.1 574.1M696.3 600.5L701.6 609.4M717.5 636.1L722.4 644.2M738.6 670.7L743.2 678M759.3 704.5L764.4 713.1M780.3 739.7L785.4 748.4M800.8 775.3L806.8 786.1M822.2 813L827.4 821.7M844.3 847.6L847.3 851.9M864.4 877.7L869.1 885.2M885.6 911.4L889.8 918.1M906.6 944.1L910.7 950.4M927.6 976.4L931.7 982.5M949.5 1007.9L951.8 1010.9M970.4 1035.7L972.8 1038.8M991.8 1063.2L993.3 1065M1013.2 1088.7L1013.8 1089.3"/><path d="M348.5 164.3L323.5 150.3L323.5 178.3zM369.5 174L344.5 160L344.5 188zM390.4 183.5L365.4 169.5L365.4 197.5zM411.4 195.8L386.4 181.8L386.4 209.8zM432.4 211L407.4 197L407.4 225zM453.4 232L428.4 218L428.4 246zM474.3 253L449.3 239L449.3 267zM495.3 277L470.3 263L470.3 291zM516.3 302.7L491.3 288.7L491.3 316.7zM537.2 331.5L512.2 317.5L512.2 345.5zM558.2 362.8L533.2 348.8L533.2 376.8zM579.2 393.1L554.2 379.1L554.2 407.1zM600.1 422.9L575.1 408.9L575.1 436.9zM621.1 455.7L596.1 441.7L596.1 469.7zM642.1 487.8L617.1 473.8L617.1 501.8zM663 520.6L638 506.6L638 534.6zM684 554.7L659 540.7L659 568.7zM705 587.1L680 573.1L680 601.1zM726 622.8L701 608.8L701 636.8zM746.9 657.5L721.9 643.5L721.9 671.5zM767.9 691.2L742.9 677.2L742.9 705.2zM788.9 726.4L763.9 712.4L763.9 740.4zM809.8 761.7L784.8 747.7L784.8 775.7zM830.8 799.7L805.8 785.7L805.8 813.7zM851.8 835L826.8 821L826.8 849zM872.8 864.5L847.8 850.5L847.8 878.5zM893.7 898.4L868.7 884.4L868.7 912.4zM914.7 931.1L889.7 917.1L889.7 945.1zM935.7 963.4L910.7 949.4L910.7 977.4zM956.6 995.5L931.6 981.5L931.6 1009.5zM977.6 1023.3L952.6 1009.3L952.6 1037.3zM998.6 1051.2L973.6 1037.2L973.6 1065.2zM1019.5 1077L994.5 1063L994.5 1091zM1040.5 1101L1015.5 1087L1015.5 1115zM1061.5 1123.6L1036.5 1109.6L1036.5 1137.6zM1082.4 1142.3L1057.4 1128.3L1057.4 1156.3zM1103.4 1158.5L1078.4 1144.5L1078.4 1172.5zM1124.4 1171.5L1099.4 1157.5L1099.4 1185.5zM1145.4 1185L1120.4 1171L1120.4 1199zM1166.3 1196.5L1141.3 1182.5L1141.3 1210.5zM1187.3 1206L1162.3 1192L1162.3 1220zM1208.3 1213.5L1183.3 1199.5L1183.3 1227.5zM1229.2 1219.8L1204.2 1205.8L1204.2 1233.8zM1250.2 1225L1225.2 1211L1225.2 1239zM1271.2 1229.2L1246.2 1215.2L1246.2 1243.2zM1292.2 1233L1267.2 1219L1267.2 1247zM1313.1 1236L1288.1 1222L1288.1 1250zM1334.1 1238.5L1309.1 1224.5L1309.1 1252.5zM1355.1 1240.7L1330.1 1226.7L1330.1 1254.7zM1376 1242.6L1351 1228.6L1351 1256.6zM1397 1244.3L1372 1230.3L1372 1258.3zM1418 1245.8L1393 1231.8L1393 1259.8zM1438.9 1247L1413.9 1233L1413.9 1261zM1459.9 1248L1434.9 1234L1434.9 1262zM1480.9 1249L1455.9 1235L1455.9 1263zM1501.8 1250L1476.8 1236L1476.8 1264zM1522.8 1250.3L1497.8 1236.3L1497.8 1264.3zM1543.8 1250.5L1518.8 1236.5L1518.8 1264.5zM1564.8 1250.8L1539.8 1236.8L1539.8 1264.8zM1585.7 1251.1L1560.7 1237.1L1560.7 1265.1zM1606.7 1251.2L1581.7 1237.2L1581.7 1265.2zM1627.7 1251.4L1602.7 1237.4L1602.7 1265.4zM1648.6 1251.5L1623.6 1237.5L1623.6 1265.5zM1669.6 1251.6L1644.6 1237.6L1644.6 1265.6zM1690.6 1251.8L1665.6 1237.8L1665.6 1265.8zM1711.5 1251.9L1686.5 1237.9L1686.5 1265.9zM1732.5 1252L1707.5 1238L1707.5 1266zM1753.5 1252.2L1728.5 1238.2L1728.5 1266.2zM1774.5 1252.3L1749.5 1238.3L1749.5 1266.3zM1795.4 1252.5L1770.4 1238.5L1770.4 1266.5zM1816.4 1252.6L1791.4 1238.6L1791.4 1266.6zM1837.4 1252.7L1812.4 1238.7L1812.4 1266.7zM1858.3 1252.9L1833.3 1238.9L1833.3 1266.9zM1879.3 1253L1854.3 1239L1854.3 1267z"/></g>
<g id="s8" fill="#800000"><path fill="none" stroke="#800000" stroke-width="2.5" d="M572.7 418.7L573.7 419.8M593 444L595.2 446.9M613.4 472L616.8 476.9M634 502.7L638.1 509M654.6 535.3L659.5 543.4M675.3 570.1L680.7 579.6M696.4 606.3L701.6 615.1M717.1 641.9L722.8 651.9M738 678.9L743.9 689.5M759.1 716.5L764.7 726.4M780 753.4L785.7 763.4M801.1 790.3L806.5 799.6M822 826.4L827.6 836.1M842.8 863L848.7 873.5M864.4 900.2L869.1 908M885.8 934.1L889.6 940M906.6 965.9L910.7 972.2M928.3 997.7L931 1001.5M949.2 1026.6L952 1030.5M970.7 1055.2L972.4 1057.4M992.2 1081.2L992.9 1081.9"/><path d="M332 319.4L343.6 326L343.6 339L332 345.6L320.4 339L320.4 326zM353 316.4L364.6 323L364.6 336L353 342.6L341.4 336L341.4 323zM373.9 314.4L385.5 321L385.5 334L373.9 340.6L362.3 334L362.3 321zM394.9 314.6L406.5 321.2L406.5 334.2L394.9 340.8L383.3 334.2L383.3 321.2zM415.9 316.6L427.5 323.2L427.5 336.2L415.9 342.8L404.3 336.2L404.3 323.2zM436.9 317.6L448.5 324.2L448.5 337.2L436.9 343.8L425.2 337.2L425.2 324.2zM457.8 322.3L469.4 328.9L469.4 341.9L457.8 348.5L446.2 341.9L446.2 328.9zM478.8 329.9L490.4 336.5L490.4 349.5L478.8 356.1L467.2 349.5L467.2 336.5zM499.8 340.4L511.4 347L511.4 360L499.8 366.6L488.2 360L488.2 347zM520.7 354.2L532.3 360.8L532.3 373.8L520.7 380.4L509.1 373.8L509.1 360.8zM541.7 372.1L553.3 378.7L553.3 391.7L541.7 398.3L530.1 391.7L530.1 378.7zM562.7 393.7L574.3 400.3L574.3 413.3L562.7 419.9L551.1 413.3L551.1 400.3zM583.6 418.6L595.2 425.2L595.2 438.2L583.6 444.8L572 438.2L572 425.2zM604.6 446.1L616.2 452.7L616.2 465.7L604.6 472.3L593 465.7L593 452.7zM625.6 476.6L637.2 483.2L637.2 496.2L625.6 502.8L614 496.2L614 483.2zM646.5 508.9L658.1 515.5L658.1 528.5L646.5 535.1L634.9 528.5L634.9 515.5zM667.5 543.6L679.1 550.2L679.1 563.2L667.5 569.8L655.9 563.2L655.9 550.2zM688.5 579.9L700.1 586.5L700.1 599.5L688.5 606.1L676.9 599.5L676.9 586.5zM709.5 615.3L721.1 621.9L721.1 634.9L709.5 641.5L697.9 634.9L697.9 621.9zM730.4 652.3L742 658.9L742 671.9L730.4 678.5L718.8 671.9L718.8 658.9zM751.4 689.9L763 696.5L763 709.5L751.4 716.1L739.8 709.5L739.8 696.5zM772.4 726.8L784 733.4L784 746.4L772.4 753L760.8 746.4L760.8 733.4zM793.3 763.8L804.9 770.4L804.9 783.4L793.3 790L781.7 783.4L781.7 770.4zM814.3 799.9L825.9 806.5L825.9 819.5L814.3 826.1L802.7 819.5L802.7 806.5zM835.3 836.4L846.9 843L846.9 856L835.3 862.6L823.7 856L823.7 843zM856.2 873.9L867.9 880.5L867.9 893.5L856.2 900.1L844.6 893.5L844.6 880.5zM877.2 908.1L888.8 914.7L888.8 927.7L877.2 934.3L865.6 927.7L865.6 914.7zM898.2 939.8L909.8 946.4L909.8 959.4L898.2 966L886.6 959.4L886.6 946.4zM919.2 972.1L930.8 978.7L930.8 991.7L919.2 998.3L907.6 991.7L907.6 978.7zM940.1 1000.9L951.7 1007.5L951.7 1020.5L940.1 1027.1L928.5 1020.5L928.5 1007.5zM961.1 1030L972.7 1036.6L972.7 1049.6L961.1 1056.2L949.5 1049.6L949.5 1036.6zM982.1 1056.4L993.7 1063L993.7 1076L982.1 1082.6L970.5 1076L970.5 1063zM1003 1080.5L1014.6 1087.1L1014.6 1100.1L1003 1106.7L991.4 1100.1L991.4 1087.1zM1024 1102.4L1035.6 1109L1035.6 1122L1024 1128.6L1012.4 1122L1012.4 1109zM1045 1122.6L1056.6 1129.2L1056.6 1142.2L1045 1148.8L1033.4 1142.2L1033.4 1129.2zM1065.9 1139.6L1077.5 1146.2L1077.5 1159.2L1065.9 1165.8L1054.3 1159.2L1054.3 1146.2zM1086.9 1155.5L1098.5 1162.1L1098.5 1175.1L1086.9 1181.7L1075.3 1175.1L1075.3 1162.1zM1107.9 1167.8L1119.5 1174.4L1119.5 1187.4L1107.9 1194L1096.3 1187.4L1096.3 1174.4zM1128.9 1178.7L1140.5 1185.3L1140.5 1198.3L1128.9 1204.9L1117.3 1198.3L1117.3 1185.3zM1149.8 1187.6L1161.4 1194.2L1161.4 1207.2L1149.8 1213.8L1138.2 1207.2L1138.2 1194.2zM1170.8 1195.5L1182.4 1202.1L1182.4 1215.1L1170.8 1221.7L1159.2 1215.1L1159.2 1202.1zM1191.8 1201.9L1203.4 1208.5L1203.4 1221.5L1191.8 1228.1L1180.2 1221.5L1180.2 1208.5zM1212.7 1207.3L1224.3 1213.9L1224.3 1226.9L1212.7 1233.5L1201.1 1226.9L1201.1 1213.9zM1233.7 1212.2L1245.3 1218.8L1245.3 1231.8L1233.7 1238.4L1222.1 1231.8L1222.1 1218.8zM1254.7 1215.5L1266.3 1222.1L1266.3 1235.1L1254.7 1241.7L1243.1 1235.1L1243.1 1222.1zM1275.7 1219.6L1287.2 1226.2L1287.2 1239.2L1275.7 1245.8L1264.1 1239.2L1264.1 1226.2zM1296.6 1222.7L1308.2 1229.3L1308.2 1242.3L1296.6 1248.9L1285 1242.3L1285 1229.3zM1317.6 1224.6L1329.2 1231.2L1329.2 1244.2L1317.6 1250.8L1306 1244.2L1306 1231.2zM1338.6 1226.7L1350.2 1233.3L1350.2 1246.3L1338.6 1252.9L1327 1246.3L1327 1233.3zM1359.5 1228.2L1371.1 1234.8L1371.1 1247.8L1359.5 1254.4L1347.9 1247.8L1347.9 1234.8zM1380.5 1229.7L1392.1 1236.3L1392.1 1249.3L1380.5 1255.9L1368.9 1249.3L1368.9 1236.3zM1401.5 1230.9L1413.1 1237.5L1413.1 1250.5L1401.5 1257.1L1389.9 1250.5L1389.9 1237.5zM1422.4 1232.5L1434 1239.1L1434 1252.1L1422.4 1258.7L1410.8 1252.1L1410.8 1239.1zM1443.4 1233.9L1455 1240.5L1455 1253.5L1443.4 1260.1L1431.8 1253.5L1431.8 1240.5zM1464.4 1235.1L1476 1241.7L1476 1254.7L1464.4 1261.3L1452.8 1254.7L1452.8 1241.7zM1485.3 1236.4L1496.9 1243L1496.9 1256L1485.3 1262.6L1473.8 1256L1473.8 1243zM1506.3 1237.2L1517.9 1243.8L1517.9 1256.8L1506.3 1263.4L1494.7 1256.8L1494.7 1243.8zM1527.3 1237.7L1538.9 1244.3L1538.9 1257.3L1527.3 1263.9L1515.7 1257.3L1515.7 1244.3zM1548.3 1237.7L1559.9 1244.3L1559.9 1257.3L1548.3 1263.9L1536.7 1257.3L1536.7 1244.3zM1569.2 1237.8L1580.8 1244.4L1580.8 1257.4L1569.2 1264L1557.6 1257.4L1557.6 1244.4zM1590.2 1237.8L1601.8 1244.4L1601.8 1257.4L1590.2 1264L1578.6 1257.4L1578.6 1244.4zM1611.2 1237.9L1622.8 1244.5L1622.8 1257.5L1611.2 1264.1L1599.6 1257.5L1599.6 1244.5zM1632.1 1237.9L1643.7 1244.5L1643.7 1257.5L1632.1 1264.1L1620.5 1257.5L1620.5 1244.5zM1653.1 1238L1664.7 1244.6L1664.7 1257.6L1653.1 1264.2L1641.5 1257.6L1641.5 1244.6zM1674.1 1238L1685.7 1244.6L1685.7 1257.6L1674.1 1264.2L1662.5 1257.6L1662.5 1244.6zM1695 1238.1L1706.6 1244.7L1706.6 1257.7L1695 1264.2L1683.5 1257.7L1683.5 1244.7zM1716 1238.1L1727.6 1244.7L1727.6 1257.7L1716 1264.3L1704.4 1257.7L1704.4 1244.7zM1737 1238.1L1748.6 1244.7L1748.6 1257.7L1737 1264.3L1725.4 1257.7L1725.4 1244.7zM1758 1238.2L1769.6 1244.8L1769.6 1257.8L1758 1264.4L1746.4 1257.8L1746.4 1244.8zM1778.9 1238.2L1790.5 1244.8L1790.5 1257.8L1778.9 1264.4L1767.3 1257.8L1767.3 1244.8zM1799.9 1238.3L1811.5 1244.9L1811.5 1257.9L1799.9 1264.5L1788.3 1257.9L1788.3 1244.9zM1820.9 1238.3L1832.5 1244.9L1832.5 1257.9L1820.9 1264.5L1809.3 1257.9L1809.3 1244.9zM1841.8 1238.4L1853.4 1245L1853.4 1258L1841.8 1264.6L1830.2 1258L1830.2 1245zM1862.8 1238.4L1874.4 1245L1874.4 1258L1862.8 1264.6L1851.2 1258L1851.2 1245z"/></g>
<g id="s9" fill="#ff0080"><path fill="none" stroke="#ff0080" stroke-width="2.5" d="M339.8 520.9L345.2 511.5M655.7 603.9L658.4 607.8M677 632.6L679 635.1M697.2 660.2L700.8 665.5M717.9 691.3L722 697.6M738.5 723.9L743.4 731.9M759.3 758.5L764.4 767M780.3 793.6L785.4 802.1M801.7 828.5L806 835.1M822.2 861.5L827.3 870.1M842.8 897L848.8 907.9M864.6 934.6L868.9 941.2M885.3 967.5L890.1 975.2M907 1001.2L910.4 1006M928.1 1031.4L931.1 1035.7M950 1060.3L951.2 1061.7M971.3 1085.4L971.9 1086"/><path d="M332 520.9L344.7 530.2L339.9 545.1L324.1 545.1L319.3 530.2zM353 484.7L365.7 494L360.8 508.9L345.1 508.9L340.2 494zM373.9 483.7L386.7 493L381.8 507.9L366.1 507.9L361.2 493zM394.9 475.9L407.7 485.2L402.8 500.1L387 500.1L382.2 485.2zM415.9 481.9L428.6 491.2L423.8 506.1L408 506.1L403.1 491.2zM436.9 479.9L449.6 489.2L444.7 504.1L429 504.1L424.1 489.2zM457.8 485.3L470.6 494.6L465.7 509.5L449.9 509.5L445.1 494.6zM478.8 489.6L491.5 498.9L486.7 513.8L470.9 513.8L466 498.9zM499.8 490.8L512.5 500.1L507.6 515L491.9 515L487 500.1zM520.7 501.5L533.5 510.8L528.6 525.7L512.9 525.7L508 510.8zM541.7 506.6L554.4 515.9L549.6 530.8L533.8 530.8L529 515.9zM562.7 514L575.4 523.3L570.5 538.2L554.8 538.2L549.9 523.3zM583.6 528.8L596.4 538.1L591.5 553L575.8 553L570.9 538.1zM604.6 536.8L617.4 546.1L612.5 561L596.7 561L591.9 546.1zM625.6 559.9L638.3 569.2L633.5 584.1L617.7 584.1L612.8 569.2zM646.5 578L659.3 587.3L654.4 602.2L638.7 602.2L633.8 587.3zM667.5 606.9L680.3 616.2L675.4 631.1L659.6 631.1L654.8 616.2zM688.5 634L701.2 643.3L696.4 658.2L680.6 658.2L675.7 643.3zM709.5 664.9L722.2 674.2L717.3 689.1L701.6 689.1L696.7 674.2zM730.4 697.2L743.2 706.5L738.3 721.4L722.6 721.4L717.7 706.5zM751.4 731.8L764.1 741.1L759.3 756L743.5 756L738.7 741.1zM772.4 766.9L785.1 776.2L780.2 791.1L764.5 791.1L759.6 776.2zM793.3 802L806.1 811.3L801.2 826.2L785.5 826.2L780.6 811.3zM814.3 834.8L827.1 844.1L822.2 859L806.4 859L801.6 844.1zM835.3 870L848 879.3L843.2 894.2L827.4 894.2L822.5 879.3zM856.2 908.1L869 917.4L864.1 932.3L848.4 932.3L843.5 917.4zM877.2 940.9L890 950.2L885.1 965.1L869.3 965.1L864.5 950.2zM898.2 975L910.9 984.3L906.1 999.2L890.3 999.2L885.4 984.3zM919.2 1005.4L931.9 1014.7L927 1029.6L911.3 1029.6L906.4 1014.7zM940.1 1034.9L952.9 1044.2L948 1059.1L932.3 1059.1L927.4 1044.2zM961.1 1060.3L973.8 1069.6L969 1084.5L953.2 1084.5L948.4 1069.6zM982.1 1084.3L994.8 1093.6L989.9 1108.5L974.2 1108.5L969.3 1093.6zM1003 1106.9L1015.8 1116.2L1010.9 1131.1L995.2 1131.1L990.3 1116.2zM1024 1126.3L1036.8 1135.6L1031.9 1150.5L1016.1 1150.5L1011.3 1135.6zM1045 1142.9L1057.7 1152.2L1052.9 1167.1L1037.1 1167.1L1032.2 1152.2zM1065.9 1158L1078.7 1167.3L1073.8 1182.2L1058.1 1182.2L1053.2 1167.3zM1086.9 1170.3L1099.7 1179.6L1094.8 1194.5L1079 1194.5L1074.2 1179.6zM1107.9 1180.2L1120.6 1189.5L1115.8 1204.4L1100 1204.4L1095.1 1189.5zM1128.9 1188.1L1141.6 1197.4L1136.7 1212.3L1121 1212.3L1116.1 1197.4zM1149.8 1196L1162.6 1205.3L1157.7 1220.2L1142 1220.2L1137.1 1205.3zM1170.8 1202L1183.5 1211.3L1178.7 1226.2L1162.9 1226.2L1158.1 1211.3zM1191.8 1207.3L1204.5 1216.6L1199.6 1231.5L1183.9 1231.5L1179 1216.6zM1212.7 1211.5L1225.5 1220.8L1220.6 1235.7L1204.9 1235.7L1200 1220.8zM1233.7 1214L1246.5 1223.3L1241.6 1238.2L1225.8 1238.2L1221 1223.3zM1254.7 1217L1267.4 1226.3L1262.6 1241.2L1246.8 1241.2L1241.9 1226.3zM1275.7 1219L1288.4 1228.3L1283.5 1243.2L1267.8 1243.2L1262.9 1228.3zM1296.6 1222L1309.4 1231.3L1304.5 1246.2L1288.7 1246.2L1283.9 1231.3zM1317.6 1224L1330.3 1233.3L1325.5 1248.2L1309.7 1248.2L1304.8 1233.3zM1338.6 1226L1351.3 1235.3L1346.4 1250.2L1330.7 1250.2L1325.8 1235.3zM1359.5 1227L1372.3 1236.3L1367.4 1251.2L1351.7 1251.2L1346.8 1236.3zM1380.5 1228L1393.2 1237.3L1388.4 1252.2L1372.6 1252.2L1367.8 1237.3zM1401.5 1228.7L1414.2 1238L1409.3 1252.9L1393.6 1252.9L1388.7 1238zM1422.4 1230.1L1435.2 1239.4L1430.3 1254.3L1414.6 1254.3L1409.7 1239.4zM1443.4 1231.1L1456.2 1240.4L1451.3 1255.3L1435.5 1255.3L1430.7 1240.4zM1464.4 1231.9L1477.1 1241.2L1472.3 1256.1L1456.5 1256.1L1451.6 1241.2zM1485.3 1232.9L1498.1 1242.2L1493.2 1257.1L1477.5 1257.1L1472.6 1242.2zM1506.3 1231.8L1519.1 1241.1L1514.2 1256L1498.4 1256L1493.6 1241.1zM1527.3 1232.9L1540 1242.2L1535.2 1257.1L1519.4 1257.1L1514.5 1242.2zM1548.3 1232.9L1561 1242.2L1556.1 1257.1L1540.4 1257.1L1535.5 1242.2zM1569.2 1235.9L1582 1245.2L1577.1 1260.1L1561.4 1260.1L1556.5 1245.2zM1590.2 1233.9L1602.9 1243.2L1598.1 1258.1L1582.3 1258.1L1577.5 1243.2zM1611.2 1234.9L1623.9 1244.2L1619 1259.1L1603.3 1259.1L1598.4 1244.2zM1632.1 1235.9L1644.9 1245.2L1640 1260.1L1624.3 1260.1L1619.4 1245.2zM1653.1 1234.9L1665.9 1244.2L1661 1259.1L1645.2 1259.1L1640.4 1244.2zM1674.1 1233.9L1686.8 1243.2L1682 1258.1L1666.2 1258.1L1661.3 1243.2zM1695 1236.1L1707.8 1245.4L1702.9 1260.3L1687.2 1260.3L1682.3 1245.4zM1716 1235.9L1728.8 1245.2L1723.9 1260.1L1708.1 1260.1L1703.3 1245.2zM1737 1235.9L1749.7 1245.2L1744.9 1260.1L1729.1 1260.1L1724.2 1245.2zM1758 1235.9L1770.7 1245.2L1765.8 1260.1L1750.1 1260.1L1745.2 1245.2zM1778.9 1235.9L1791.7 1245.2L1786.8 1260.1L1771.1 1260.1L1766.2 1245.2zM1799.9 1236.9L1812.6 1246.2L1807.8 1261.1L1792 1261.1L1787.2 1246.2zM1820.9 1235.9L1833.6 1245.2L1828.7 1260.1L1813 1260.1L1808.1 1245.2zM1841.8 1236.9L1854.6 1246.2L1849.7 1261.1L1834 1261.1L1829.1 1246.2zM1862.8 1236.9L1875.6 1246.2L1870.7 1261.1L1854.9 1261.1L1850.1 1246.2z"/></g>
<rect x="1237" y="53" width="655" height="655" fill="#000"/>
<rect x="1240" y="55" width="649" height="650" fill="#fff"/>
<g fill="#000000"><path d="M1289 102h53v2h-53zM1366 102h53v2h-53z"/><path d="M1343.8 92.8L1364.2 92.8L1364.2 113.2L1343.8 113.2z"/></g>
<text x="1432.6" y="122.5" font-size="57" letter-spacing="0.08">-743mV vs SHE</text>
<g fill="#ff0000"><path d="M1289 171h53v3h-53zM1366 171h53v3h-53z"/><path d="M1342.7 172.5a11.3 11.3 0 1 0 22.6 0a11.3 11.3 0 1 0 -22.6 0z"/></g>
<text x="1432.6" y="192" font-size="57" letter-spacing="0.08">-723mV vs SHE</text>
<g fill="#0000ff"><path d="M1289 240h53v3h-53zM1366 240h53v3h-53z"/><path d="M1354 225.7L1367.3 249.5L1340.7 249.5z"/></g>
<text x="1432.6" y="261" font-size="57" letter-spacing="0.08">-673mV vs SHE</text>
<g fill="#008080"><path d="M1289 310h53v3h-53zM1366 310h53v3h-53z"/><path d="M1354 327.3L1367.3 303.5L1340.7 303.5z"/></g>
<text x="1432.6" y="331" font-size="57" letter-spacing="0.08">-623mV vs SHE</text>
<g fill="#ff00ff"><path d="M1289 379h53v3h-53zM1366 379h53v3h-53z"/><path d="M1354 365.9L1368.6 380.5L1354 395.1L1339.4 380.5z"/></g>
<text x="1432.6" y="400" font-size="57" letter-spacing="0.08">-573mV vs SHE</text>
<g fill="#808000"><path d="M1289 448h53v3h-53zM1366 448h53v3h-53z"/><path d="M1338.3 449.5L1362.1 436.2L1362.1 462.8z"/></g>
<text x="1432.6" y="469" font-size="57" letter-spacing="0.08">-523mV vs SHE</text>
<g fill="#000080"><path d="M1289 518h53v2h-53zM1366 518h53v2h-53z"/><path d="M1369.7 519L1345.9 505.7L1345.9 532.3z"/></g>
<text x="1432.6" y="538.5" font-size="57" letter-spacing="0.08">-423mV vs SHE</text>
<g fill="#800000"><path d="M1289 587h53v3h-53zM1366 587h53v3h-53z"/><path d="M1354 575.9L1365.1 582.3L1365.1 594.7L1354 601.1L1342.9 594.7L1342.9 582.3z"/></g>
<text x="1432.6" y="608" font-size="57" letter-spacing="0.08">-323mV vs SHE</text>
<g fill="#ff0080"><path d="M1289 657h53v2h-53zM1366 657h53v2h-53z"/><path d="M1354 645L1366.4 654L1361.6 668.5L1346.4 668.5L1341.6 654z"/></g>
<text x="1432.6" y="677.5" font-size="57" letter-spacing="0.08">-223mV vs SHE</text>
<text x="203.1" y="1398.6" font-size="57">10<tspan dx="-0.7" dy="-30.4" font-size="35.5">-3</tspan></text>
<text x="412.8" y="1398.6" font-size="57">10<tspan dx="-0.7" dy="-30.4" font-size="35.5">-2</tspan></text>
<text x="622.5" y="1398.6" font-size="57">10<tspan dx="-0.7" dy="-30.4" font-size="35.5">-1</tspan></text>
<text x="832.2" y="1398.6" font-size="57">10<tspan dx="-0.7" dy="-30.4" font-size="35.5">0</tspan></text>
<text x="1041.8" y="1398.6" font-size="57">10<tspan dx="-0.7" dy="-30.4" font-size="35.5">1</tspan></text>
<text x="1251.5" y="1398.6" font-size="57">10<tspan dx="-0.7" dy="-30.4" font-size="35.5">2</tspan></text>
<text x="1461.2" y="1398.6" font-size="57">10<tspan dx="-0.7" dy="-30.4" font-size="35.5">3</tspan></text>
<text x="1670.9" y="1398.6" font-size="57">10<tspan dx="-0.7" dy="-30.4" font-size="35.5">4</tspan></text>
<text x="1880.6" y="1398.6" font-size="57">10<tspan dx="-0.7" dy="-30.4" font-size="35.5">5</tspan></text>
<text x="142.2" y="1165" font-size="57">10<tspan dx="-0.7" dy="-30.9" font-size="35.5">3</tspan></text>
<text x="142.2" y="720" font-size="57">10<tspan dx="-0.7" dy="-30.9" font-size="35.5">4</tspan></text>
<text x="142.2" y="274.9" font-size="57">10<tspan dx="-0.7" dy="-30.9" font-size="35.5">5</tspan></text>
<text x="891.5" y="1494.8" font-size="57" letter-spacing="0.03">Frequency (Hz)</text>
<text transform="translate(99.2 937.8) rotate(-90)" font-size="57" letter-spacing="-0.3">Zmod (Ohm.cm<tspan dy="-31" font-size="36.5">2</tspan><tspan dy="31" font-size="55.5">)</tspan></text>
</svg></body></html>
